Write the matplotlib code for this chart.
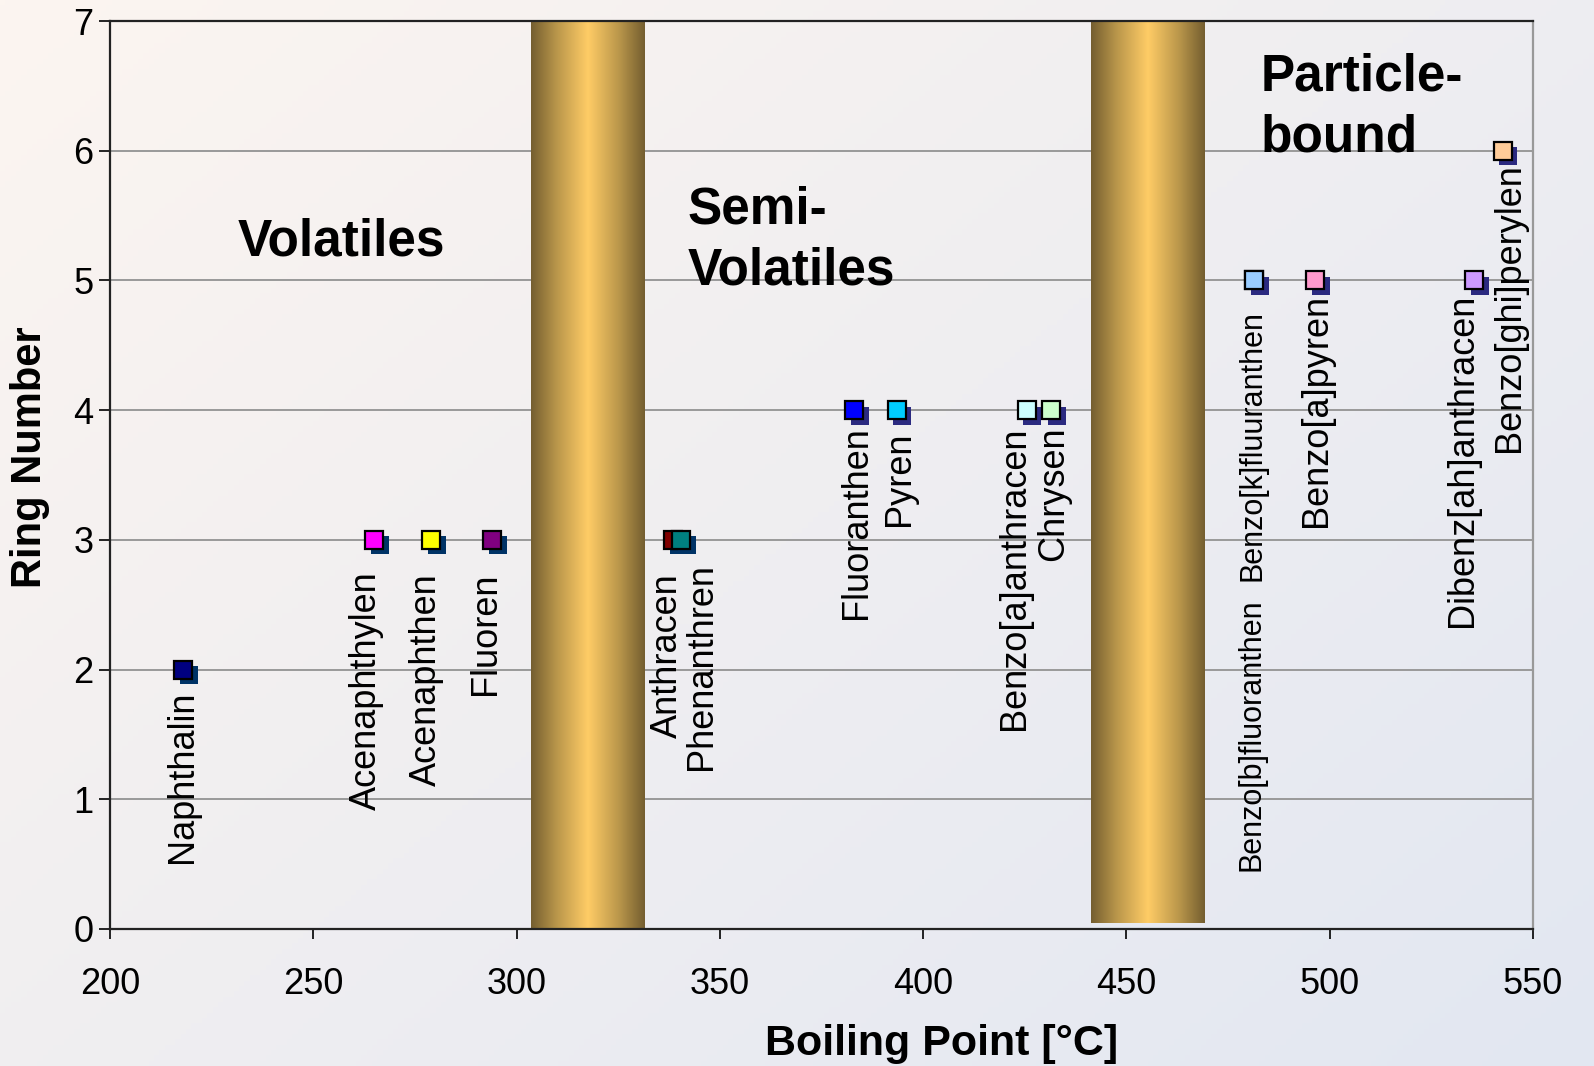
import numpy as np
import matplotlib
matplotlib.use("Agg")
import matplotlib.pyplot as plt
from matplotlib.colors import LinearSegmentedColormap, to_rgb
from matplotlib.transforms import offset_copy

# ---------------- data ----------------
compounds = ["Naphthalin", "Acenaphthylen", "Acenaphthen", "Fluoren", "Anthracen",
             "Phenanthren", "Fluoranthen", "Pyren", "Benzo[a]anthracen", "Chrysen",
             "Benzo[b]fluoranthen", "Benzo[k]fluuranthen", "Benzo[a]pyren",
             "Dibenz[ah]anthracen", "Benzo[ghi]perylen"]
boiling_points = [218, 265, 279, 294, 338.5, 340.5, 383, 393.5, 425.5, 431.5,
                  481.5, 481.5, 496.5, 535.5, 542.5]
ring_numbers = [2, 3, 3, 3, 3, 3, 4, 4, 4, 4, 5, 5, 5, 5, 6]

region_names = ["Volatiles", "Semi-\nVolatiles", "Particle-\nbound"]
region_x = [257, 342, 483]
region_y = [5.30, 5.31, 6.33]

separator_from = [303.5, 441.4]
separator_to = [331.5, 469.2]
separator_bottom = [0.0, 0.05]

x_ticks = [200, 250, 300, 350, 400, 450, 500, 550]
y_ticks = [0, 1, 2, 3, 4, 5, 6, 7]

# ---------------- styles ----------------
marker_colors = ["#000080", "#FF00FF", "#FFFF00", "#800080", "#800000",
                 "#008080", "#0000FF", "#00CCFF", "#CCFFFF", "#CCFFCC",
                 "#3366FF", "#99CCFF", "#FF99CC", "#CC99FF", "#FFCC99"]
shadow_colors = ["#003366"] * 6 + ["#2B2A80"] * 9
# label offsets (pixels) relative to the marker: (dx, dy of label top)
label_dx = [-1, -8, -5, -7, -6, 20, 2, 3, -12, 2, -3, -2, 1, -12, 7]
label_dy = [21, 31, 33, 33, 33, 23, 16, 21, 16, 16, 318, 30, 13, 13, 12]
label_size = [26] * 10 + [22, 22, 26, 26, 26]

W, H = 1594, 1066
fig = plt.figure(figsize=(W / 100, H / 100), dpi=100)

# background gradient
bg = fig.add_axes([0, 0, 1, 1])
bg.set_axis_off()
c0 = np.array(to_rgb("#FCF5F0"))
c1 = np.array(to_rgb("#E2E7F2"))
yy, xx = np.mgrid[0:1:200j, 0:1:300j]
t = np.clip((xx * 0.55 + yy * 0.45), 0, 1)[..., None]
img = c0 * (1 - t) + c1 * t
bg.imshow(img, extent=[0, 1, 0, 1], aspect="auto", origin="upper")
bg.set_xlim(0, 1)
bg.set_ylim(0, 1)

left, right, bottom, top = 110 / W, 1533 / W, 1 - 929 / H, 1 - 21 / H
ax = fig.add_axes([left, bottom, right - left, top - bottom])
ax.patch.set_alpha(0)

xmin, xmax = x_ticks[0], x_ticks[-1]
ymin, ymax = y_ticks[0], y_ticks[-1]

# grid
for yv in y_ticks[1:-1]:
    ax.axhline(yv, color="#999999", lw=1.4, zorder=1)

# gold separators
gold = LinearSegmentedColormap.from_list(
    "gold", [(0, "#745E30"), (0.22, "#B8954A"), (0.5, "#FFCC66"),
             (0.78, "#B8954A"), (1, "#745E30")])
grad = np.linspace(0, 1, 256)[None, :]
for a, b, y0 in zip(separator_from, separator_to, separator_bottom):
    ax.imshow(grad, cmap=gold, extent=[a, b, y0, ymax], aspect="auto",
              zorder=2, interpolation="bilinear")

# markers with shadows
shadow_tr = offset_copy(ax.transData, fig=fig, x=5.5, y=-5.5, units="dots")
for i, (bx, rn) in enumerate(zip(boiling_points, ring_numbers)):
    ax.plot([bx], [rn], marker="s", ms=12.5, mew=0, color=shadow_colors[i],
            transform=shadow_tr, zorder=3 + i * 0.01, clip_on=False)
    ax.plot([bx], [rn], marker="s", ms=12.5, mew=1.6, mec="black",
            mfc=marker_colors[i], zorder=3.005 + i * 0.01, clip_on=False)

# labels
for i, name in enumerate(compounds):
    ax.annotate(name, (boiling_points[i], ring_numbers[i]),
                xytext=(label_dx[i], -label_dy[i]), textcoords="offset pixels",
                rotation=90, ha="center", va="top", fontsize=label_size[i],
                family="Liberation Sans", color="black", zorder=5)

# region names
ax.text(region_x[0], region_y[0], region_names[0], ha="center", va="center",
        fontsize=37, fontweight="bold", family="Liberation Sans", zorder=5)
for k in (1, 2):
    ax.text(region_x[k], region_y[k], region_names[k], ha="left", va="center",
            fontsize=37, fontweight="bold", family="Liberation Sans",
            linespacing=1.32, zorder=5)

ax.set_xlim(xmin, xmax)
ax.set_ylim(ymin, ymax)
ax.set_xticks(x_ticks)
ax.set_yticks(y_ticks)
ax.tick_params(axis="x", direction="out", length=7, width=1.2, pad=20,
               labelsize=26)
ax.tick_params(axis="y", direction="out", length=8, width=1.2, pad=4,
               labelsize=26)
for lab in ax.get_xticklabels() + ax.get_yticklabels():
    lab.set_family("Liberation Sans")

for side in ("left", "bottom", "top"):
    ax.spines[side].set_color("#222222")
    ax.spines[side].set_linewidth(1.6)
ax.spines["right"].set_color("#999999")
ax.spines["right"].set_linewidth(1.6)

fig.text(942 / W, 1 - 1044 / H, "Boiling Point [°C]", ha="center", va="center",
         fontsize=31, fontweight="bold", family="Liberation Sans")
fig.text(30 / W, 1 - 457 / H, "Ring Number", ha="center", va="center",
         rotation=90, fontsize=30, fontweight="bold", family="Liberation Sans")

fig.savefig("out.png", dpi=100)
